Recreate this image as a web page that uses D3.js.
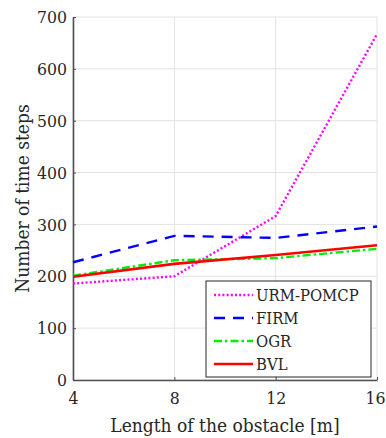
<!DOCTYPE html>
<html>
<head>
<meta charset="utf-8">
<script src="https://cdn.jsdelivr.net/npm/d3@7"></script>
<style>
  body { margin: 0; background: #fff; }
  svg text { font-family: "DejaVu Serif Condensed", "DejaVu Serif", serif; fill: #262626; }
</style>
</head>
<body>
<div id="chart"></div>
<script>
// obstacle length [m]
const lengths = [4, 8, 12, 16]
const urmPomcp = [186, 200, 316, 667]
const firm = [227, 278, 274, 296]
const ogr = [201, 231, 235, 253]
const bvl = [199, 224, 241, 260]

const xTicks = [4, 8, 12, 16]
const yTicks = [0, 100, 200, 300, 400, 500, 600, 700]

const seriesNames = ['URM-POMCP', 'FIRM', 'OGR', 'BVL']
const seriesValues = [urmPomcp, firm, ogr, bvl]
const seriesStyle = [
  { color: '#ff00ff', dash: '2 2.2', width: 2.4 },
  { color: '#0000ff', dash: '11 8', width: 2.4 },
  { color: '#00ee00', dash: '8 3 2.5 3', width: 2.4 },
  { color: '#ff0000', dash: null, width: 2.6 }
]

const FONT = '"DejaVu Serif Condensed", "DejaVu Serif", serif'
const W = 386
const H = 438
const M = { left: 73, right: 9, top: 17, bottom: 58 }

const svg = d3.select('#chart')
  .append('svg')
  .attr('width', W)
  .attr('height', H)

const x = d3.scaleLinear().domain([4, 16]).range([M.left, W - M.right])
const y = d3.scaleLinear().domain([0, 700]).range([H - M.bottom, M.top])

// grid
const grid = svg.append('g').attr('stroke', '#e3e3e3').attr('stroke-width', 1)
grid.selectAll('.gx')
  .data(xTicks)
  .enter().append('line')
  .attr('x1', d => x(d)).attr('x2', d => x(d))
  .attr('y1', y(0)).attr('y2', y(700))
grid.selectAll('.gy')
  .data(yTicks)
  .enter().append('line')
  .attr('x1', x(4)).attr('x2', x(16))
  .attr('y1', d => y(d)).attr('y2', d => y(d))

// axes
const xAxis = svg.append('g')
  .attr('transform', `translate(0, ${y(0)})`)
  .call(d3.axisBottom(x).tickValues(xTicks).tickSizeInner(-3).tickSizeOuter(0).tickPadding(12))
const yAxis = svg.append('g')
  .attr('transform', `translate(${x(4)}, 0)`)
  .call(d3.axisLeft(y).tickValues(yTicks).tickSizeInner(-3).tickSizeOuter(0).tickPadding(6))

;[xAxis, yAxis].forEach(a => {
  a.attr('font-family', FONT)
  a.select('.domain').attr('stroke', '#505050').attr('stroke-width', 1.6)
  a.selectAll('.tick line').attr('stroke', '#505050')
  a.selectAll('.tick text')
    .style('font-size', '17.5px')
    .style('font-family', FONT)
    .attr('fill', '#262626')
})
xAxis.selectAll('.tick text').attr('dy', '0.71em')
// last label sits on the window edge, nudge it in a bit
xAxis.selectAll('.tick text').filter(d => d === 16).attr('dx', -2)

// lines
const line = d3.line()
  .x((d, i) => x(lengths[i]))
  .y(d => y(d))

seriesValues.forEach((vals, i) => {
  const s = seriesStyle[i]
  svg.append('path')
    .datum(vals)
    .attr('fill', 'none')
    .attr('stroke', s.color)
    .attr('stroke-width', s.width)
    .attr('stroke-dasharray', s.dash)
    .attr('d', line)
})

// legend
const legend = svg.append('g').attr('transform', 'translate(206, 281)')
legend.append('rect')
  .attr('width', 165)
  .attr('height', 96)
  .attr('fill', '#fff')
  .attr('stroke', '#262626')
  .attr('stroke-width', 1)

seriesNames.forEach((name, i) => {
  const s = seriesStyle[i]
  const cy = 14 + i * 23
  legend.append('line')
    .attr('x1', 8).attr('x2', 47)
    .attr('y1', cy).attr('y2', cy)
    .attr('stroke', s.color)
    .attr('stroke-width', s.width)
    .attr('stroke-dasharray', s.dash)
  legend.append('text')
    .attr('x', 50)
    .attr('y', cy)
    .attr('dy', '0.35em')
    .style('font-size', '16.5px')
    .text(name)
})

// axis labels
svg.append('text')
  .attr('x', (x(4) + x(16)) / 2)
  .attr('y', 432)
  .attr('text-anchor', 'middle')
  .style('font-size', '19px')
  .text('Length of the obstacle [m]')

svg.append('text')
  .attr('transform', `translate(29, ${(y(0) + y(700)) / 2}) rotate(-90)`)
  .attr('text-anchor', 'middle')
  .style('font-size', '19px')
  .text('Number of time steps')
</script>
</body>
</html>
